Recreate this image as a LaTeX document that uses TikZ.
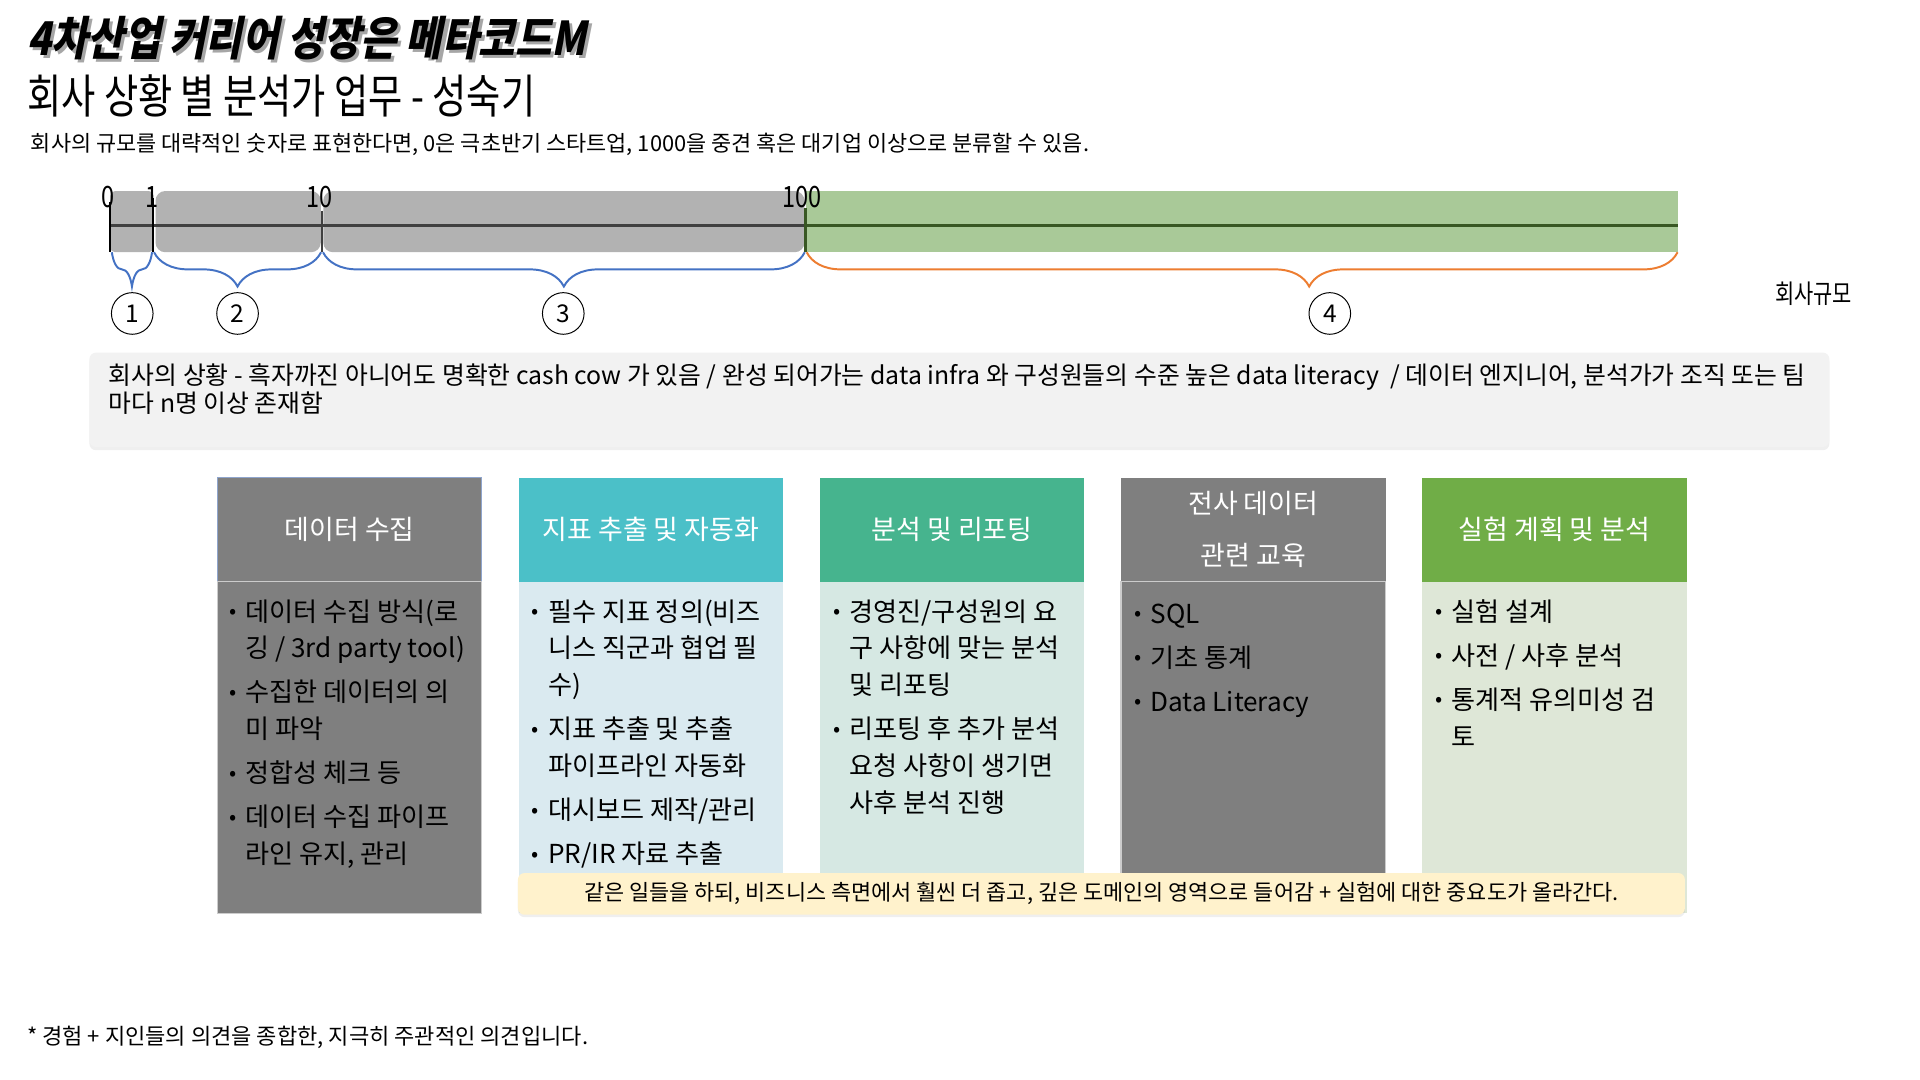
\documentclass[tikz,border=0pt]{standalone}
\usepackage{fontspec}
\setmainfont{Noto Sans CJK KR}
\newfontfamily\narrowfont[FakeStretch=0.8]{Noto Sans CJK KR}
\newfontfamily\titlefont[FakeStretch=0.85,FakeSlant=0.2]{Noto Sans CJK KR}
\usepackage{xcolor}
\usetikzlibrary{positioning, decorations.pathreplacing, shadows}

\definecolor{barGray}{RGB}{178,178,178}
\definecolor{barGreen}{RGB}{169,201,152}
\definecolor{lineDark}{RGB}{64,64,64}
\definecolor{lineGreen}{RGB}{56,87,35}
\definecolor{braceBlue}{RGB}{68,114,196}
\definecolor{braceOrange}{RGB}{237,125,49}
\definecolor{sitFill}{RGB}{242,242,242}
\definecolor{hdGray}{RGB}{127,127,127}
\definecolor{hdEdge}{RGB}{143,165,205}
\definecolor{hdTeal}{RGB}{75,192,200}
\definecolor{bdTeal}{RGB}{218,234,240}
\definecolor{hdSea}{RGB}{70,180,142}
\definecolor{bdSea}{RGB}{214,232,227}
\definecolor{hdGreen}{RGB}{112,173,71}
\definecolor{bdGreen}{RGB}{222,231,215}
\definecolor{noteYellow}{RGB}{255,242,204}

\newcommand{\bl}{{\fontsize{13}{13}\selectfont\raisebox{1.5pt}{•}}}

\tikzset{
  hdbox/.style={rectangle, minimum width=162pt, minimum height=63.75pt,
                inner sep=0pt, outer sep=0pt, align=center, text=white,
                font=\fontsize{16.5}{18}\selectfont},
  bdbox/.style={rectangle, minimum width=162pt, minimum height=203.25pt,
                inner sep=0pt, outer sep=0pt},
  itemlist/.style={anchor=north west, inner sep=0pt, align=left,
                   font=\fontsize{16}{22.5}\selectfont},
  tickline/.style={line width=1.5pt},
  bluebrace/.style={decorate, decoration={brace, mirror, amplitude=21pt},
                    draw=braceBlue, line width=1.2pt},
  orangebrace/.style={decorate, decoration={brace, mirror, amplitude=21pt,
                      aspect=0.577}, draw=braceOrange, line width=1.2pt},
  numcirc/.style={circle, draw, semithick, minimum size=25.5pt, inner sep=0pt,
                  font=\fontsize{15}{18}\selectfont},
  ticklabel/.style={inner sep=0pt, font=\narrowfont\fontsize{18}{20}\selectfont}
}

\begin{document}
\begin{tikzpicture}[x=0.75pt, y=-0.75pt, node distance=22.5pt]
  \useasboundingbox (0,0) rectangle (1568,882);
  \fill[white] (0,0) rectangle (1568,882);

  %% -- Titles --
  \node[anchor=west, inner sep=0pt, text=black!35,
        font=\titlefont\bfseries\fontsize{28.5}{30}\selectfont] (titleshade)
    at (24.5,33.5) {4차산업 커리어 성장은 메타코드M};
  \node[anchor=west, inner sep=0pt,
        font=\titlefont\bfseries\fontsize{28.5}{30}\selectfont] (title)
    at (22,31) {4차산업 커리어 성장은 메타코드M};
  \node[anchor=west, inner sep=0pt, font=\narrowfont\fontsize{28.5}{30}\selectfont]
    (subtitle) at (22,78) {회사 상황 별 분석가 업무 - 성숙기};
  \node[anchor=west, inner sep=0pt, font=\fontsize{13.4}{15}\selectfont]
    (desc) at (25,118)
    {회사의 규모를 대략적인 숫자로 표현한다면, 0은 극초반기 스타트업, 1000을 중견 혹은 대기업 이상으로 분류할 수 있음.};

  %% -- Size bar --
  \fill[barGray, rounded corners=3pt] (90,156) rectangle (125.5,206);
  \fill[barGray, rounded corners=6pt] (127,156) rectangle (262,206);
  \fill[barGray, rounded corners=6pt] (264,156) rectangle (657,206);
  \fill[barGreen] (658,156) rectangle (1370,206);
  \draw[line width=2.2pt, lineDark] (90,184) -- (658,184);
  \draw[line width=2.2pt, lineGreen] (658,184) -- (1370,184);

  \coordinate (t0)   at (90,206);
  \coordinate (t1)   at (125,206);
  \coordinate (t10)  at (263,206);
  \coordinate (t100) at (658,206);
  \coordinate (tend) at (1370,206);

  \draw[tickline, black] (90,165) -- (t0);
  \draw[tickline, black] (125,162) -- (t1);
  \draw[tickline, lineDark] (263,172) -- (t10);
  \draw[tickline, lineGreen] (658,170) -- (t100);

  \node[ticklabel] (lab0)   at (88,161)  {0};
  \node[ticklabel] (lab1)   at (124,161) {1};
  \node[ticklabel] (lab10)  at (261,161) {10};
  \node[ticklabel] (lab100) at (655,161) {100};

  %% -- Braces --
  \draw[bluebrace]   ([xshift=1pt]t0)    -- ([xshift=-0.6pt]t1);
  \draw[bluebrace]   ([xshift=0.6pt]t1)  -- ([xshift=-0.6pt]t10);
  \draw[bluebrace]   ([xshift=0.6pt]t10) -- ([xshift=-0.6pt]t100);
  \draw[orangebrace] ([xshift=0.6pt]t100) -- (tend);

  \node[numcirc] (n1) at (108,256)  {1};
  \node[numcirc] (n2) at (194,256)  {2};
  \node[numcirc] (n3) at (460,256)  {3};
  \node[numcirc] (n4) at (1086,256) {4};
  \node[inner sep=0pt, font=\narrowfont\fontsize{16}{18}\selectfont] (axis)
    at (1481,240) {회사규모};

  %% -- Company situation --
  \node[rectangle, fill=sitFill, rounded corners=4pt, minimum width=1065.75pt,
        minimum height=57.75pt, inner sep=0pt,
        drop shadow={opacity=0.12, shadow xshift=0pt, shadow yshift=-2pt}]
    (sitbox) at (783.5,326.5) {};
  \node[anchor=north west, inner sep=0pt, align=left,
        font=\fontsize{15.2}{16}\selectfont] (sittext)
    at ([xshift=12pt, yshift=-6.5pt]sitbox.north west)
    {회사의 상황 - 흑자까진 아니어도 명확한 cash cow 가 있음 / 완성 되어가는 data infra 와 구성원들의 수준 높은 data literacy ~/ 데이터 엔지니어, 분석가가 조직 또는 팀\\
     마다 n명 이상 존재함};

  %% -- Column headers --
  \node[hdbox, fill=hdGray, draw=hdEdge, line width=0.8pt] (h1) at (285.5,432.5)
    {데이터 수집};
  \node[hdbox, fill=hdTeal, right=of h1]  (h2) {지표 추출 및 자동화};
  \node[hdbox, fill=hdSea, right=of h2]   (h3) {분석 및 리포팅};
  \node[hdbox, fill=hdGray, right=of h3, font=\fontsize{16.5}{32}\selectfont]
    (h4) {전사 데이터\\관련 교육};
  \node[hdbox, fill=hdGreen, right=of h4] (h5) {실험 계획 및 분석};

  %% -- Column bodies --
  \node[bdbox, fill=hdGray, draw=white!80!black, line width=0.8pt,
        below=0pt of h1] (b1) {};
  \node[bdbox, fill=bdTeal, below=0pt of h2] (b2) {};
  \node[bdbox, fill=bdSea, below=0pt of h3]  (b3) {};
  \node[bdbox, fill=hdGray, draw=white!80!black, line width=0.8pt,
        below=0pt of h4] (b4) {};
  \node[bdbox, fill=bdGreen, below=0pt of h5] (b5) {};

  %% -- Column items --
  \node[itemlist] (l1) at ([xshift=7pt, yshift=-8.25pt]b1.north west)
    {\begin{tabular}{@{}l@{\hspace{5.5pt}}l@{}}
      \bl & 데이터 수집 방식(로\\ & 깅 / 3rd party tool)\\[4.5pt]
      \bl & 수집한 데이터의 의\\ & 미 파악\\[4.5pt]
      \bl & 정합성 체크 등\\[4.5pt]
      \bl & 데이터 수집 파이프\\ & 라인 유지, 관리
     \end{tabular}};
  \node[itemlist] (l2) at ([xshift=8pt, yshift=-8.25pt]b2.north west)
    {\begin{tabular}{@{}l@{\hspace{5.5pt}}l@{}}
      \bl & 필수 지표 정의(비즈\\ & 니스 직군과 협업 필\\ & 수)\\[4.5pt]
      \bl & 지표 추출 및 추출\\ & 파이프라인 자동화\\[4.5pt]
      \bl & 대시보드 제작/관리\\[4.5pt]
      \bl & PR/IR 자료 추출
     \end{tabular}};
  \node[itemlist] (l3) at ([xshift=8pt, yshift=-8.25pt]b3.north west)
    {\begin{tabular}{@{}l@{\hspace{5.5pt}}l@{}}
      \bl & 경영진/구성원의 요\\ & 구 사항에 맞는 분석\\ & 및 리포팅\\[4.5pt]
      \bl & 리포팅 후 추가 분석\\ & 요청 사항이 생기면\\ & 사후 분석 진행
     \end{tabular}};
  \node[itemlist] (l4) at ([xshift=8pt, yshift=-9.5pt]b4.north west)
    {\begin{tabular}{@{}l@{\hspace{5.5pt}}l@{}}
      \bl & SQL\\[4.5pt]
      \bl & 기초 통계\\[4.5pt]
      \bl & Data Literacy
     \end{tabular}};
  \node[itemlist] (l5) at ([xshift=8pt, yshift=-8.25pt]b5.north west)
    {\begin{tabular}{@{}l@{\hspace{5.5pt}}l@{}}
      \bl & 실험 설계\\[4.5pt]
      \bl & 사전 / 사후 분석\\[4.5pt]
      \bl & 통계적 유의미성 검\\ & 토
     \end{tabular}};

  %% -- Common note --
  \node[rectangle, fill=noteYellow, rounded corners=4pt, minimum width=714.75pt,
        minimum height=25.5pt, inner sep=0pt,
        font=\fontsize{13.4}{15}\selectfont,
        drop shadow={opacity=0.12, shadow xshift=0pt, shadow yshift=-1.5pt}]
    (note) at (899.5,730)
    {같은 일들을 하되, 비즈니스 측면에서 훨씬 더 좁고, 깊은 도메인의 영역으로 들어감 + 실험에 대한 중요도가 올라간다.};

  %% -- Footnote --
  \node[anchor=west, inner sep=0pt, font=\fontsize{13.5}{15}\selectfont]
    (foot) at (22,847) {* 경험 + 지인들의 의견을 종합한, 지극히 주관적인 의견입니다.};
\end{tikzpicture}
\end{document}
